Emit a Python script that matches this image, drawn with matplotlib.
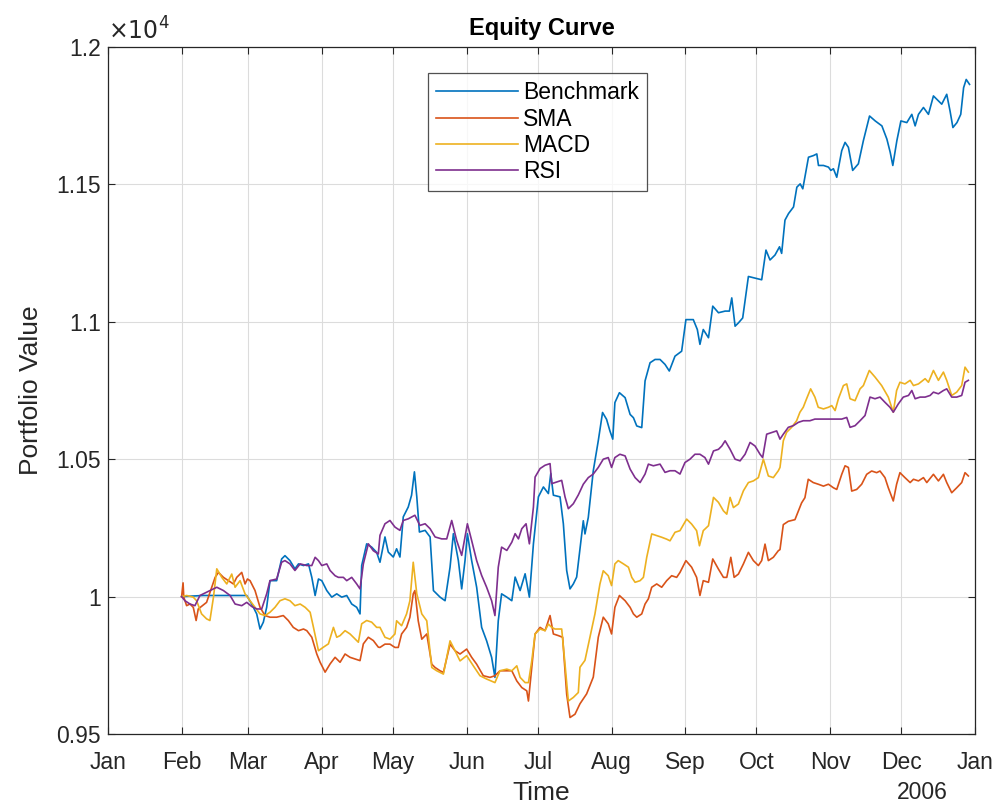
import pandas as pd
import matplotlib.pyplot as plt

# days since 2006-01-01 and portfolio values
bench_day = [31, 40.1, 47.2, 54.2, 58.4, 60.5, 62.6, 64.0, 65.4, 66.8, 68.2, 71.0, 73.1, 74.5, 76.6, 78.7,
             80.2, 82.3, 84.4, 85.8, 87.2, 88.6, 90.0, 92.1, 94.2, 96.3, 98.4, 100.5, 102.6, 104.7, 106.1,
             106.8, 108.9, 111.0, 113.1, 114.5, 116.6, 118.0, 120.1, 121.5, 122.9, 124.3, 126.4, 127.8,
             129.0, 130.0, 131.1, 133.5, 135.6, 137.0, 139.8, 141.9, 144.0, 145.4, 147.5, 148.9, 150.3,
             151.3, 153.1, 155.2, 157.3, 159.4, 161.5, 162.9, 164.3, 165.7, 167.9, 170.0, 171.4, 173.5,
             175.6, 177.4, 179.1, 181.2, 183.3, 185.4, 186.4, 187.5, 190.3, 191.7, 193.1, 194.5, 195.9,
             197.3, 200.1, 200.8, 202.2, 204.3, 206.4, 208.2, 209.9, 211.3, 212.5, 213.4, 215.3, 217.7,
             219.8, 221.2, 222.6, 224.7, 226.1, 228.2, 230.3, 232.4, 234.5, 236.3, 238.7, 241.5, 243.3,
             246.4, 248.1, 249.2, 250.6, 252.8, 254.6, 257.0, 259.8, 261.6, 262.6, 264.0, 265.4, 267.2,
             269.6, 272.4, 275.2, 277.0, 278.7, 280.8, 282.7, 283.6, 285.0, 286.5, 288.6, 290.0, 291.4,
             292.5, 294.9, 297.0, 298.4, 299.1, 301.2, 303.3, 304.3, 305.4, 306.8, 308.9, 310.3, 311.7,
             313.5, 315.9, 318.0, 320.6, 323.0, 325.8, 327.9, 329.3, 330.4, 332.1, 333.8, 336.3, 338.4,
             339.8, 341.2, 343.3, 345.4, 347.5, 349.6, 351.0, 353.1, 354.5, 355.7, 357.4, 359.0, 360.2,
             361.3, 362.7]
bench_val = [10000, 10004, 10004, 10004, 10004, 9973, 9937, 9882, 9907, 9961, 10058, 10058, 10137, 10149,
             10131, 10101, 10119, 10113, 10119, 10070, 10004, 10064, 10058, 10022, 9998, 10010, 9998,
             10004, 9973, 9961, 9937, 10113, 10192, 10180, 10161, 10125, 10217, 10162, 10144, 10174,
             10144, 10290, 10326, 10369, 10454, 10363, 10235, 10241, 10217, 10022, 9998, 9985, 10107,
             10229, 10131, 10028, 10131, 10229, 10131, 10034, 9888, 9839, 9779, 9706, 9912, 10010, 9998,
             9985, 10071, 10022, 10083, 9998, 10192, 10363, 10399, 10375, 10448, 10369, 10363, 10265,
             10095, 10028, 10046, 10071, 10276, 10228, 10288, 10458, 10567, 10670, 10645, 10603, 10573,
             10706, 10742, 10724, 10663, 10651, 10621, 10615, 10785, 10851, 10863, 10863, 10845, 10821,
             10875, 10893, 11008, 11008, 10972, 10918, 10972, 10942, 11057, 11033, 11039, 11039, 11087,
             10984, 10996, 11014, 11165, 11159, 11153, 11261, 11225, 11243, 11273, 11249, 11370, 11394,
             11418, 11490, 11502, 11484, 11599, 11605, 11611, 11569, 11569, 11563, 11551, 11557, 11526,
             11623, 11653, 11635, 11551, 11575, 11659, 11749, 11731, 11713, 11665, 11617, 11569, 11659,
             11731, 11725, 11755, 11713, 11755, 11780, 11755, 11822, 11804, 11792, 11828, 11767, 11707,
             11725, 11755, 11852, 11882, 11864]

sma_day = [31, 31.6, 31.9, 33.1, 34.5, 35.9, 37.1, 38.0, 41.5, 45.1, 46.5, 48.6, 50.7, 52.8, 54.2, 56.3,
           57.7, 58.7, 59.8, 61.9, 64.0, 66.1, 68.2, 71.0, 73.8, 75.9, 78.0, 80.2, 82.3, 83.7, 85.8, 87.9,
           89.3, 91.4, 93.5, 95.6, 97.7, 99.8, 101.9, 104.0, 106.1, 107.5, 109.6, 111.7, 113.8, 114.5,
           116.6, 118.7, 120.8, 122.2, 123.6, 125.7, 127.1, 128.5, 129.2, 130.6, 132.1, 134.2, 136.3,
           137.7, 139.8, 141.2, 144.0, 146.1, 148.2, 151.0, 153.1, 155.2, 158.0, 160.8, 162.9, 165.0,
           167.2, 170.0, 172.1, 174.2, 176.3, 177.0, 178.4, 179.8, 181.9, 184.0, 186.1, 187.5, 189.6,
           191.4, 193.1, 194.5, 196.6, 198.7, 201.5, 204.3, 206.4, 208.5, 210.6, 212.0, 213.4, 215.3,
           217.7, 219.8, 221.2, 222.6, 224.7, 226.1, 227.5, 228.9, 231.0, 233.1, 235.2, 237.3, 239.4,
           240.8, 243.3, 245.7, 247.8, 249.2, 250.6, 252.8, 254.6, 257.0, 259.1, 260.5, 262.2, 263.6,
           265.4, 267.5, 269.6, 271.7, 273.8, 275.2, 276.6, 278.0, 280.1, 282.2, 282.9, 284.3, 286.4,
           289.2, 290.6, 292.0, 293.4, 294.8, 296.9, 299.0, 301.2, 303.3, 305.4, 306.8, 308.9, 310.3,
           311.7, 313.1, 315.2, 317.3, 319.4, 321.5, 323.6, 325.0, 327.1, 328.5, 330.6, 332.0, 333.4,
           335.5, 337.7, 339.1, 341.2, 343.3, 344.7, 347.5, 349.6, 351.7, 353.1, 355.2, 357.3, 359.4,
           360.8, 362.2]
sma_val = [10000, 10050, 9998, 9967, 9973, 9961, 9913, 9955, 9979, 10070, 10088, 10070, 10058, 10046,
           10070, 10088, 10046, 10064, 10058, 10022, 9961, 9931, 9925, 9925, 9931, 9913, 9888, 9876, 9882,
           9876, 9852, 9791, 9761, 9725, 9755, 9779, 9761, 9791, 9779, 9773, 9767, 9828, 9852, 9840, 9816,
           9815, 9827, 9827, 9815, 9815, 9864, 9888, 9925, 10010, 10022, 9912, 9845, 9864, 9754, 9742,
           9730, 9724, 9827, 9803, 9791, 9809, 9779, 9754, 9712, 9706, 9712, 9730, 9730, 9730, 9693, 9669,
           9657, 9620, 9742, 9864, 9888, 9876, 9931, 9864, 9858, 9852, 9645, 9560, 9572, 9610, 9646, 9707,
           9852, 9925, 9901, 9864, 9961, 10004, 9985, 9961, 9937, 9925, 9937, 9973, 9992, 10034, 10046,
           10034, 10058, 10076, 10070, 10088, 10131, 10107, 10070, 10004, 10058, 10052, 10137, 10100,
           10070, 10070, 10143, 10070, 10082, 10119, 10161, 10131, 10113, 10131, 10191, 10131, 10143,
           10167, 10171, 10262, 10274, 10280, 10311, 10341, 10360, 10427, 10415, 10409, 10402, 10409,
           10396, 10390, 10445, 10476, 10470, 10384, 10390, 10409, 10445, 10457, 10451, 10457, 10433,
           10396, 10348, 10409, 10451, 10433, 10415, 10427, 10421, 10433, 10415, 10445, 10421, 10445,
           10415, 10378, 10396, 10415, 10451, 10439]

macd_day = [31, 33.1, 35.9, 37.3, 39.4, 41.5, 42.9, 44.4, 45.8, 47.9, 50.0, 52.1, 53.5, 55.6, 57.7, 59.8,
            61.9, 64.0, 66.1, 68.2, 70.3, 72.4, 74.5, 76.6, 78.7, 80.9, 83.0, 85.1, 86.5, 88.6, 90.7, 92.8,
            94.9, 96.3, 97.7, 99.8, 101.9, 104.0, 105.4, 106.8, 108.9, 111.0, 113.1, 114.5, 116.6, 118.7,
            120.8, 121.5, 123.6, 125.7, 127.1, 128.5, 130.0, 132.1, 134.2, 136.3, 138.4, 141.2, 144.0,
            146.1, 148.2, 151.0, 153.8, 156.6, 159.4, 162.9, 165.0, 167.9, 170.0, 172.1, 173.5, 175.6,
            177.0, 178.4, 179.8, 181.9, 184.0, 185.4, 186.8, 188.2, 191.0, 192.4, 193.8, 195.9, 198.0,
            198.7, 200.8, 202.9, 205.0, 207.1, 208.5, 210.6, 212.0, 213.4, 214.8, 217.0, 219.1, 220.5,
            221.9, 224.0, 225.4, 226.8, 228.9, 231.0, 233.1, 235.2, 236.6, 238.7, 240.8, 243.6, 245.7,
            247.8, 249.0, 250.6, 252.8, 254.9, 257.0, 259.1, 260.5, 261.9, 263.3, 265.4, 267.5, 269.6,
            271.7, 273.8, 275.9, 278.0, 280.1, 282.2, 282.9, 284.3, 285.7, 287.8, 289.9, 291.3, 292.7,
            294.1, 295.8, 297.6, 299.0, 301.2, 303.3, 304.7, 306.1, 307.5, 309.6, 311.0, 312.4, 314.5,
            316.6, 318.0, 320.5, 322.9, 325.7, 328.5, 330.6, 332.0, 333.4, 335.5, 337.7, 339.1, 341.2,
            344.0, 345.4, 347.5, 349.6, 351.7, 353.1, 355.2, 357.3, 359.4, 360.8, 362.2]
macd_val = [10000, 10004, 9998, 9985, 9937, 9919, 9913, 9998, 10101, 10070, 10046, 10082, 10034, 10058,
            10010, 9985, 9961, 9937, 9931, 9943, 9961, 9985, 9992, 9985, 9967, 9973, 9961, 9943, 9888,
            9803, 9816, 9828, 9888, 9852, 9858, 9876, 9864, 9846, 9834, 9901, 9913, 9907, 9888, 9888,
            9852, 9845, 9864, 9912, 9894, 9937, 9985, 10125, 10010, 9937, 9912, 9742, 9730, 9718, 9839,
            9803, 9766, 9785, 9748, 9712, 9700, 9687, 9730, 9736, 9730, 9748, 9706, 9687, 9687, 9766,
            9864, 9882, 9876, 9900, 9888, 9882, 9882, 9754, 9620, 9633, 9651, 9743, 9768, 9852, 9937,
            10046, 10094, 10076, 10040, 10119, 10131, 10119, 10107, 10070, 10052, 10058, 10070, 10143,
            10228, 10222, 10216, 10209, 10203, 10234, 10240, 10282, 10264, 10240, 10185, 10240, 10258,
            10361, 10343, 10312, 10300, 10361, 10324, 10337, 10385, 10415, 10421, 10433, 10500, 10439,
            10433, 10458, 10470, 10567, 10598, 10616, 10640, 10671, 10689, 10720, 10756, 10726, 10689,
            10683, 10689, 10695, 10677, 10720, 10768, 10774, 10720, 10713, 10756, 10768, 10823, 10799,
            10768, 10726, 10671, 10750, 10780, 10774, 10787, 10768, 10774, 10793, 10780, 10823, 10787,
            10817, 10787, 10732, 10744, 10768, 10835, 10817]

rsi_day = [31, 32.4, 34.5, 36.6, 38.7, 43.0, 45.8, 48.6, 51.4, 53.5, 56.3, 58.4, 60.5, 62.6, 64.7, 66.8,
           68.2, 71.0, 73.1, 74.5, 76.6, 78.7, 80.9, 83.7, 85.8, 87.2, 88.6, 90.0, 92.1, 93.5, 95.6, 97.0,
           99.1, 100.5, 102.6, 104.7, 106.1, 107.5, 109.6, 111.7, 113.8, 114.5, 116.6, 118.7, 120.8,
           122.9, 124.3, 126.4, 129.2, 131.3, 133.5, 135.6, 137.7, 140.5, 142.6, 144.7, 146.8, 148.9,
           151.3, 153.1, 155.2, 157.3, 159.4, 161.5, 162.9, 164.3, 165.7, 167.9, 170.0, 171.4, 172.8,
           174.2, 176.0, 177.4, 179.1, 179.8, 181.9, 184.0, 186.1, 186.8, 188.9, 191.0, 192.4, 193.8,
           195.9, 198.0, 200.1, 202.2, 204.3, 206.4, 208.5, 210.6, 212.0, 213.4, 215.5, 217.7, 219.8,
           221.9, 224.0, 226.1, 227.5, 229.6, 232.4, 234.5, 236.6, 238.7, 240.8, 242.9, 245.0, 247.1,
           249.2, 251.3, 252.8, 254.9, 257.0, 258.4, 259.8, 261.9, 264.0, 266.1, 268.2, 270.3, 272.4,
           274.5, 275.6, 277.3, 279.4, 281.5, 282.9, 284.3, 286.4, 288.5, 290.6, 292.7, 295.5, 297.6,
           300.5, 303.3, 306.1, 308.9, 311.0, 312.4, 314.5, 316.6, 318.7, 320.8, 322.9, 325.0, 327.1,
           329.2, 330.6, 332.7, 334.8, 337.0, 338.4, 339.8, 341.9, 344.0, 346.1, 347.5, 349.6, 351.7,
           353.1, 355.2, 357.3, 359.4, 360.8, 362.2]
rsi_val = [10000, 9985, 9973, 9967, 10004, 10022, 10034, 10022, 10004, 9973, 9967, 9979, 9964, 9955,
           9955, 10010, 10058, 10064, 10125, 10131, 10119, 10095, 10119, 10113, 10113, 10143, 10131,
           10113, 10119, 10095, 10076, 10070, 10070, 10058, 10070, 10046, 10028, 10119, 10192, 10167,
           10155, 10223, 10265, 10277, 10253, 10241, 10277, 10283, 10296, 10259, 10265, 10247, 10217,
           10210, 10210, 10277, 10204, 10150, 10265, 10204, 10131, 10077, 10034, 9985, 9931, 10107,
           10180, 10168, 10198, 10229, 10210, 10247, 10265, 10192, 10326, 10435, 10466, 10478, 10484,
           10411, 10417, 10423, 10363, 10320, 10338, 10370, 10409, 10433, 10446, 10470, 10500, 10506,
           10470, 10506, 10518, 10512, 10464, 10433, 10415, 10446, 10482, 10476, 10482, 10452, 10458,
           10458, 10446, 10488, 10500, 10518, 10518, 10506, 10482, 10530, 10536, 10548, 10567, 10536,
           10500, 10494, 10518, 10561, 10548, 10518, 10506, 10591, 10597, 10603, 10573, 10591, 10616,
           10622, 10634, 10640, 10640, 10646, 10646, 10646, 10646, 10646, 10652, 10616, 10622, 10640,
           10659, 10726, 10720, 10726, 10707, 10689, 10671, 10701, 10726, 10732, 10750, 10720, 10726,
           10726, 10732, 10744, 10738, 10750, 10756, 10726, 10726, 10732, 10780, 10787]

month_labels = ['Jan', 'Feb', 'Mar', 'Apr', 'May', 'Jun', 'Jul', 'Aug', 'Sep', 'Oct', 'Nov', 'Dec', 'Jan']
ytick_vals = [9500, 10000, 10500, 11000, 11500, 12000]
ytick_labels = ['0.95', '1', '1.05', '1.1', '1.15', '1.2']

start = pd.Timestamp('2006-01-01')


def to_dates(days):
    return start + pd.to_timedelta(days, unit='D')


plt.rcParams['font.family'] = ['Liberation Sans', 'DejaVu Sans']
dark = '#262626'

fig = plt.figure(figsize=(10, 8.08), dpi=100)
ax = fig.add_axes([0.108, 0.0916, 0.867, 0.8502])

ax.plot(to_dates(bench_day), bench_val, color='#0072BD', lw=1.2, label='Benchmark')
ax.plot(to_dates(sma_day), sma_val, color='#D95319', lw=1.2, label='SMA')
ax.plot(to_dates(macd_day), macd_val, color='#EDB120', lw=1.2, label='MACD')
ax.plot(to_dates(rsi_day), rsi_val, color='#7E2F8E', lw=1.2, label='RSI')

ax.set_xlim(pd.Timestamp('2006-01-01'), pd.Timestamp('2007-01-01'))
ax.set_ylim(9500, 12000)
month_ticks = pd.date_range('2006-01-01', '2007-01-01', freq='MS')
ax.set_xticks(month_ticks)
ax.set_xticklabels(month_labels)
ax.set_yticks(ytick_vals)
ax.set_yticklabels(ytick_labels)

ax.grid(True, color='#dcdcdc', lw=0.8)
ax.set_axisbelow(True)
ax.tick_params(direction='in', length=5, colors=dark, labelsize=16.5, top=True, right=True)
ax.tick_params(axis='x', pad=12)
ax.tick_params(axis='y', pad=5)
for s in ax.spines.values():
    s.set_color(dark)
    s.set_linewidth(0.9)

ax.set_title('Equity Curve', fontsize=17, fontweight='bold', color='black', pad=9)
ax.set_xlabel('Time', fontsize=19, color=dark, labelpad=5)
ax.set_ylabel('Portfolio Value', fontsize=19, color=dark, labelpad=10)
ax.text(0.0, 1.004, r'$\times10^{4}$', transform=ax.transAxes, fontsize=17, color=dark,
        ha='left', va='bottom')
ax.text(0.939, -0.0845, '2006', transform=ax.transAxes, fontsize=16.5, color=dark,
        ha='center', va='center')

leg = ax.legend(loc='upper left', bbox_to_anchor=(0.369, 0.962), fontsize=16.5, frameon=True,
                fancybox=False, handlelength=3.6, labelspacing=0.15, borderpad=0.35,
                handletextpad=0.2, borderaxespad=0)
leg.get_frame().set_edgecolor(dark)
leg.get_frame().set_linewidth(0.9)

plt.savefig('out.png', dpi=100)
